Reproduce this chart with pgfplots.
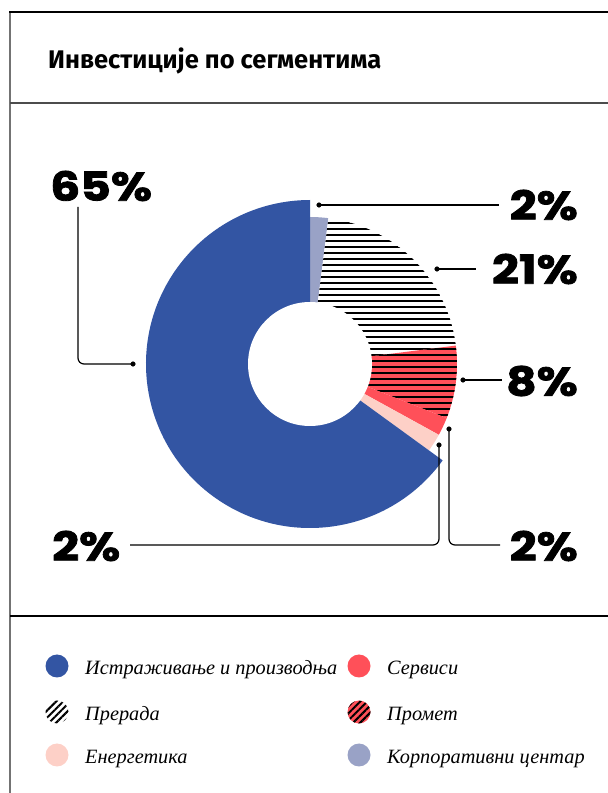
\documentclass[border=0pt]{standalone}
\usepackage{pgfplots}
\pgfplotsset{compat=1.18}
\usepackage{pgfplotstable}
\usetikzlibrary{patterns.meta}
\usepackage{fontspec}
\setmainfont{Liberation Serif}
\newfontfamily\titlefont{Fira Sans}
\newfontfamily\pctfont{Poppins}[FakeStretch=1.18, FakeBold=2]
\newfontfamily\legfont{Liberation Serif}[Language=Serbian]

\definecolor{cBlue}{HTML}{3355A3}
\definecolor{cRed}{HTML}{FF5059}
\definecolor{cPink}{HTML}{FDD0C7}
\definecolor{cCorp}{HTML}{99A2C6}

% shares in percent, clockwise from 12 o'clock
\pgfplotstableread{
seg value
Korp 2
Prerada 21
Promet 8
Servisi 2
Energetika 2
Istr 65
}\shares

% one pie wedge: row index, radius (px), style
\newcommand\donutseg[3]{%
  \fill[#3] (axis cs:310,429)
    -- (axis cs:{310+#2*cos(\csname sa#1\endcsname)},{429+#2*sin(\csname sa#1\endcsname)})
    arc[start angle=\csname sa#1\endcsname, end angle=\csname ea#1\endcsname, radius=#2pt]
    -- cycle;}

\tikzset{
  hatchH/.style={pattern={Lines[angle=0,distance=6pt,line width=2.2pt]}, pattern color=black},
  hatchD/.style={pattern={Lines[angle=45,distance=5pt,line width=2pt]}, pattern color=black},
  pct/.style={font=\pctfont\bfseries\fontsize{40}{42}\selectfont, inner sep=0pt},
  leg/.style={font=\legfont\itshape\fontsize{20.3}{24}\selectfont, inner sep=0pt, anchor=base west},
}

\begin{document}
\begin{tikzpicture}
\xdef\cum{90}
\foreach \i in {0,...,5}{
  \pgfplotstablegetelem{\i}{value}\of\shares
  \pgfmathsetmacro\nxt{\cum-3.6*\pgfplotsretval}
  \expandafter\xdef\csname sa\i\endcsname{\cum}
  \expandafter\xdef\csname ea\i\endcsname{\nxt}
  \xdef\cum{\nxt}
}
\begin{axis}[
    x=1pt, y=1pt,
    xmin=0, xmax=608, ymin=0, ymax=793,
    hide axis, clip=false,
    anchor=south west, at={(0,0)},
]
% frame
\draw[black!55, line width=2pt] (axis cs:10,0) -- (axis cs:10,781);
\draw[black, line width=1.5pt] (axis cs:9,781) -- (axis cs:608,781);
\draw[black!70, line width=2pt] (axis cs:10,690) -- (axis cs:608,690);
\draw[black, line width=1.3pt] (axis cs:10,177) -- (axis cs:608,177);

\node[anchor=base west, inner sep=0pt, font=\titlefont\bfseries\fontsize{25.5}{28}\selectfont]
  at (axis cs:48,724) {Инвестиције по сегментима};

% donut
\donutseg{0}{147}{cCorp}
\donutseg{1}{147}{white}
\donutseg{1}{147}{hatchH}
\donutseg{2}{147}{cRed}
\donutseg{2}{147}{hatchH}
\donutseg{3}{147}{cRed}
\donutseg{4}{147}{cPink}
\donutseg{5}{164}{cBlue}
\fill[white] (axis cs:310,429) circle[radius=62pt];

% leader lines
\addplot[black, line width=1.2pt, rounded corners=6pt] coordinates {(78,586) (78,429) (133,429)};
\addplot[black, line width=1.2pt] coordinates {(319,588) (499,588)};
\addplot[black, line width=1.2pt] coordinates {(437,524) (476,524)};
\addplot[black, line width=1.2pt] coordinates {(463,413) (502,413)};
\addplot[black, line width=1.2pt, rounded corners=6pt] coordinates {(449,364) (449,248) (500,248)};
\addplot[black, line width=1.2pt, rounded corners=6pt] coordinates {(439,348) (439,248) (130,248)};
\addplot[only marks, mark=*, mark size=2.3pt, black] coordinates {
  (133,429) (319,588) (437,524) (463,413) (449,364) (439,348)};

% value labels
\node[pct, anchor=west] at (axis cs:50,607) {65\%};
\node[pct, anchor=east] at (axis cs:578,588) {2\%};
\node[pct, anchor=east] at (axis cs:578,524) {21\%};
\node[pct, anchor=east] at (axis cs:578,412) {8\%};
\node[pct, anchor=east] at (axis cs:578,247) {2\%};
\node[pct, anchor=west] at (axis cs:52,247) {2\%};

% legend
\fill[cBlue] (axis cs:57,127) circle[radius=11.5pt];
\fill[hatchD] (axis cs:57,81) circle[radius=11.5pt];
\fill[cPink] (axis cs:57,38) circle[radius=11.5pt];
\fill[cRed] (axis cs:359,127) circle[radius=11.5pt];
\fill[cRed] (axis cs:359,81) circle[radius=11.5pt];
\fill[hatchD] (axis cs:359,81) circle[radius=11.5pt];
\fill[cCorp] (axis cs:359,38) circle[radius=11.5pt];
\node[leg] at (axis cs:85,118) {Истраживање и производња};
\node[leg] at (axis cs:85,72) {Прерада};
\node[leg] at (axis cs:85,29) {Енергетика};
\node[leg] at (axis cs:387,118) {Сервиси};
\node[leg] at (axis cs:387,72) {Промет};
\node[leg] at (axis cs:387,29) {Корпоративни центар};
\end{axis}
\pgfresetboundingbox
\path[use as bounding box] (0,0) rectangle (608pt,793pt);
\end{tikzpicture}
\end{document}
